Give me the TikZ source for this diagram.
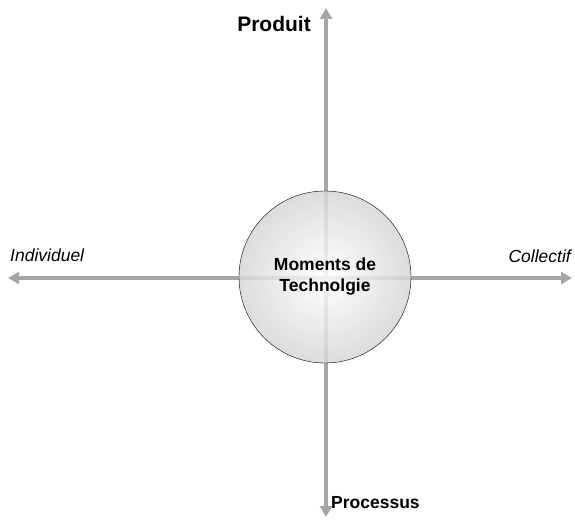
\documentclass[tikz,border=0pt]{standalone}
\usepackage{fontspec}
\setmainfont{Liberation Sans}
\usetikzlibrary{positioning,arrows.meta}
\definecolor{axisgray}{RGB}{166,166,166}

\begin{document}
\begin{tikzpicture}[x=1pt, y=1pt,
  axis/.style = {draw=axisgray, line width=4pt, {Triangle[length=11pt,width=12pt]}-{Triangle[length=11pt,width=12pt]}},
  lbl/.style = {inner sep=0pt, font=\fontsize{17.5}{21}\selectfont\itshape},
  main/.style = {draw, circle, thin, minimum size=172pt, inner sep=0pt, align=center,
    inner color=white, outer color=black!16, fill opacity=0.85, text opacity=1,
    font=\fontsize{17.5}{21}\selectfont\bfseries}]
\useasboundingbox (0,0) rectangle (575,519);
\coordinate (left) at (8,241);
\coordinate (right) at (572,241);
\coordinate (top) at (326,511);
\coordinate (bottom) at (326,2);
\draw[axis] (left) -- (right);
\draw[axis] (top) -- (bottom);
\node[main] (mt) at (325,242) {Moments de\\Technolgie};
\node[lbl, anchor=base west] (indiv) at ([shift={(2,16)}]left) {Individuel};
\node[lbl, anchor=base east] (coll) at ([shift={(-1,15)}]right) {Collectif};
\node[lbl, font=\fontsize{21}{25}\selectfont\bfseries, below left=8pt and 15pt of top] (prod) {Produit};
\node[lbl, font=\fontsize{17.5}{21}\selectfont\bfseries, anchor=base west] (proc) at ([shift={(5,9)}]bottom) {Processus};
\end{tikzpicture}
\end{document}
